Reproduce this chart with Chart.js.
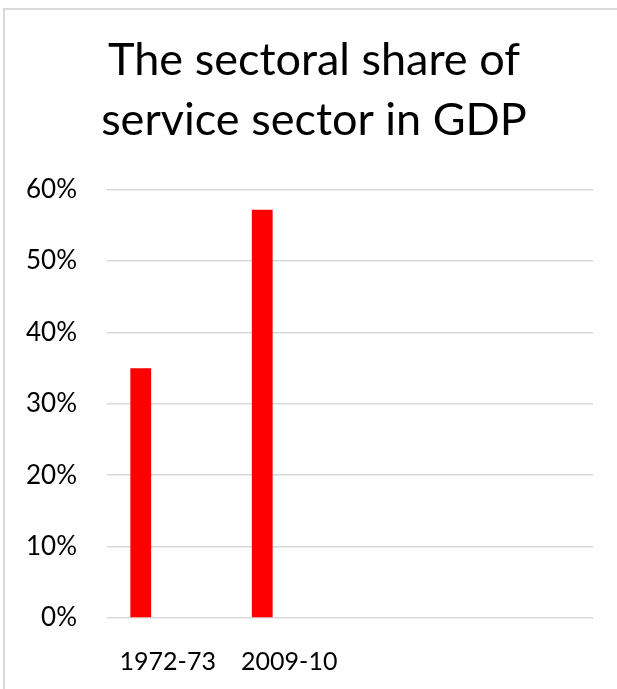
<!DOCTYPE html>
<html>
<head>
<meta charset="utf-8">
<script src="https://cdn.jsdelivr.net/npm/chart.js@4"></script>
<style>
  html, body { margin: 0; padding: 0; background: #fff; overflow: hidden; }
  #frame { position: absolute; left: 3px; top: 8px; width: 700px; height: 800px; border: 2px solid #d9d9d9; }
  #myChart { position: absolute; left: 0; top: 0; }
</style>
</head>
<body>
<div id="frame"></div>
<canvas id="myChart" width="617" height="689"></canvas>
<script>
const years = ["1972-73", "2009-10", "", ""]
const serviceShare = [35, 57.2, null, null]
const emptyA = [null, null, null, null]
const emptyB = [null, null, null, null]
const yTicks = [0, 10, 20, 30, 40, 50, 60]

const ctx = document.getElementById('myChart').getContext('2d');
const font = "Lato"

// shift the title box so it is centred a bit right of the canvas middle, like the original
const titleShift = {
    id: 'titleShift',
    afterLayout(chart) {
        if (chart.titleBlock) chart.titleBlock.left = 35
    }
}

new Chart(ctx, {
    type: 'bar',
    data: {
        labels: years,
        datasets: [
            { label: "Service sector", backgroundColor: "#ff0000", data: serviceShare },
            { label: "", backgroundColor: "#ff0000", data: emptyA },
            { label: "", backgroundColor: "#ff0000", data: emptyB }
        ]
    },
    options: {
        responsive: false,
        animation: false,
        categoryPercentage: 0.667,
        barPercentage: 0.77,
        layout: { padding: { left: 0, right: 24, top: 0, bottom: 11 } },
        plugins: {
            legend: { display: false },
            tooltip: { enabled: false },
            title: {
                display: true,
                text: ["The sectoral share of", "service sector in GDP"],
                color: "#000",
                font: { family: font, size: 45, weight: "normal", lineHeight: 1.33 },
                padding: { top: 31, bottom: 39 }
            }
        },
        scales: {
            x: {
                afterFit: s => { s.height = 60 },
                grid: { display: false, drawTicks: false },
                border: { display: false },
                ticks: {
                    color: "#000",
                    font: { family: font, size: 25, lineHeight: 1.2 },
                    padding: 29,
                    maxRotation: 0,
                    autoSkip: false
                }
            },
            y: {
                min: 0,
                max: 60,
                afterFit: s => { s.width = 107 },
                afterBuildTicks: s => { s.ticks = yTicks.map(v => ({ value: v })) },
                grid: { color: "#d9d9d9", lineWidth: 1.5, drawTicks: false },
                border: { display: false },
                ticks: {
                    color: "#000",
                    font: { family: font, size: 26 },
                    padding: 30,
                    callback: v => v + "%"
                }
            }
        }
    },
    plugins: [titleShift]
});
</script>
</body>
</html>
